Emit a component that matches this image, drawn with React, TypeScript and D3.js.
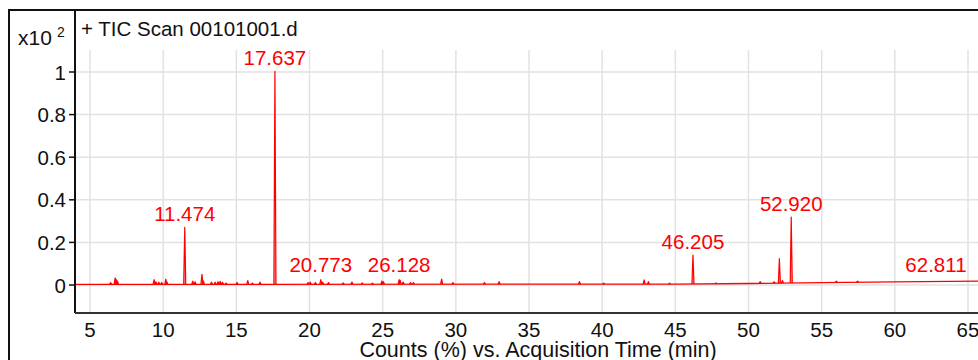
import * as d3 from "d3";

// peak list: retention time (min) and height (x10^2 counts)
const peakTimes = [
  6.41, 6.72, 6.8, 6.88, 9.38, 9.5, 9.7, 9.9, 10.18, 10.25, 11.474, 12.02, 12.18,
  12.65, 12.75, 13.3, 13.55, 13.75, 13.9, 14.05, 14.3, 15.05, 15.78, 16.1, 16.62,
  17.637, 19.9, 20.05, 20.4, 20.773, 20.9, 21.3, 22.3, 22.9, 23.6, 24.3, 24.95,
  25.05, 26.128, 26.2, 26.4, 26.9, 27.1, 29.03, 29.8, 31.95, 32.96, 38.45, 40.1,
  42.87, 43.16, 44.6, 46.205, 47.77, 50.8, 51.75, 52.11, 52.32, 52.92, 56.0, 57.45,
];
const peakHeights = [
  0.008, 0.03, 0.022, 0.015, 0.022, 0.012, 0.01, 0.008, 0.025, 0.012, 0.268, 0.015, 0.012,
  0.047, 0.015, 0.01, 0.01, 0.012, 0.014, 0.01, 0.006, 0.008, 0.017, 0.006, 0.01,
  1.0, 0.008, 0.01, 0.008, 0.022, 0.01, 0.008, 0.006, 0.01, 0.006, 0.005, 0.015,
  0.012, 0.022, 0.018, 0.01, 0.008, 0.008, 0.024, 0.008, 0.008, 0.012, 0.012, 0.005,
  0.02, 0.012, 0.005, 0.136, 0.004, 0.008, 0.007, 0.115, 0.012, 0.31, 0.006, 0.005,
];

// baseline drift
const baseTimes = [3.975, 45, 50, 55, 60, 65.7];
const baseValues = [0.003, 0.004, 0.007, 0.011, 0.015, 0.018];

// labelled peaks
const labelTimes = [11.474, 17.637, 20.773, 26.128, 46.205, 52.92, 62.811];
const labelTexts = ["11.474", "17.637", "20.773", "26.128", "46.205", "52.920", "62.811"];

const xTicks = [5, 10, 15, 20, 25, 30, 35, 40, 45, 50, 55, 60, 65];
const yTicks = [0, 0.2, 0.4, 0.6, 0.8, 1];

const W = 978;
const H = 360;
const FONT = "'Liberation Sans', Arial, sans-serif";
const FS = 20.5;

export default function App() {
  const x = d3.scaleLinear().domain([5, 65]).range([90, 968]);
  const y = d3.scaleLinear().domain([0, 1]).range([285, 72]);
  const left = 75;
  const right = W;
  const top = 50;
  const bottom = 313;

  const base = d3.scaleLinear().domain(baseTimes).range(baseValues);

  const line = d3
    .line<[number, number]>()
    .x((d) => x(d[0]))
    .y((d) => y(d[1]));

  const baselinePts: [number, number][] = baseTimes.map((t, i) => [t, baseValues[i]]);
  const hw = 0.07;
  const peakPaths = peakTimes.map((t, i) => {
    const pts: [number, number][] = [
      [t - hw, base(t - hw)],
      [t, base(t) + peakHeights[i]],
      [t + hw, base(t + hw)],
    ];
    return line(pts) as string;
  });

  const labelY = (t: number) => {
    const i = peakTimes.indexOf(t);
    const h = i >= 0 ? peakHeights[i] : 0;
    return y(Math.max(base(t) + h, 0.033)) - 6;
  };

  return (
    <svg
      width={W}
      height={H}
      style={{ position: "fixed", left: 0, top: 0, background: "#fff" }}
      fontFamily={FONT}
    >
      {/* grid */}
      {xTicks.map((t) => (
        <line key={"gx" + t} x1={x(t)} x2={x(t)} y1={top} y2={bottom} stroke="#e2e2e2" strokeWidth={1.5} />
      ))}
      {yTicks.map((v) => (
        <line key={"gy" + v} x1={left} x2={right} y1={y(v)} y2={y(v)} stroke="#e2e2e2" strokeWidth={1.5} />
      ))}

      {/* trace */}
      <g clipPath="url(#plot)">
        <defs>
          <clipPath id="plot">
            <rect x={left} y={top - 40} width={right - left} height={bottom - top + 40} />
          </clipPath>
        </defs>
        {peakPaths.map((d, i) => (
          <path key={"p" + i} d={d} fill="#ff9a9a" stroke="#ff0000" strokeWidth={1.2} strokeLinejoin="round" />
        ))}
        <path d={line(baselinePts) as string} fill="none" stroke="#ff0000" strokeWidth={1.3} />
      </g>

      {/* peak labels */}
      {labelTimes.map((t, i) => (
        <text key={"l" + t} x={x(t)} y={labelY(t)} textAnchor="middle" fill="#ff0000" fontSize={FS}>
          {labelTexts[i]}
        </text>
      ))}

      {/* axes */}
      <line x1={left} x2={left} y1={10} y2={bottom} stroke="#111" strokeWidth={2} />
      <line x1={left} x2={right} y1={bottom} y2={bottom} stroke="#333" strokeWidth={2} />
      {yTicks.map((v) => (
        <g key={"yt" + v}>
          <line x1={left - 6} x2={left} y1={y(v)} y2={y(v)} stroke="#111" strokeWidth={1.5} />
          <text x={66} y={y(v) + 7.5} textAnchor="end" fontSize={FS} fill="#111">
            {d3.format("~g")(v)}
          </text>
        </g>
      ))}
      {xTicks.map((t) => (
        <text key={"xt" + t} x={x(t)} y={337} textAnchor="middle" fontSize={FS} fill="#111">
          {t}
        </text>
      ))}
      <text x={538} y={357} textAnchor="middle" fontSize={21.5} fill="#111">
        Counts (%) vs. Acquisition Time (min)
      </text>

      {/* frame and headers */}
      <line x1={8} x2={W} y1={10} y2={10} stroke="#111" strokeWidth={2} />
      <line x1={9} x2={9} y1={10} y2={H} stroke="#111" strokeWidth={2} />
      <text x={18} y={45} fontSize={FS + 0.5} fill="#111">x10</text>
      <text x={57} y={37} fontSize={14} fill="#111">2</text>
      <text x={81} y={36} fontSize={FS} fill="#111">+ TIC Scan 00101001.d</text>
    </svg>
  );
}
